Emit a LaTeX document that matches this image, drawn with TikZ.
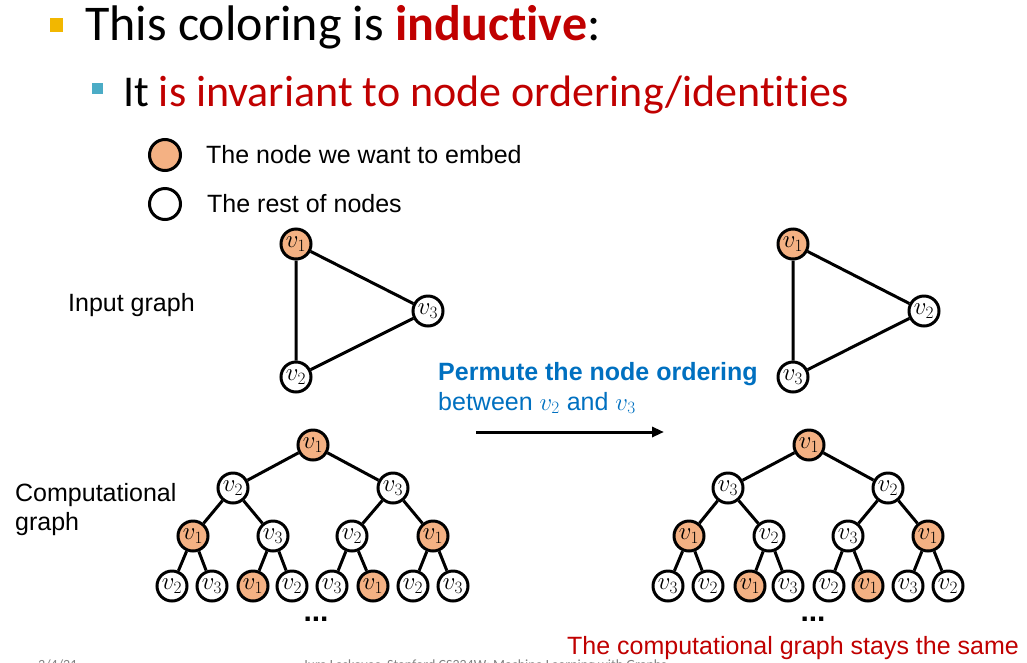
\documentclass[tikz,border=0pt]{standalone}
\usepackage{amsmath}
\usepackage{fontspec}
\setmainfont{Carlito}[Ligatures=NoCommon]
\newfontfamily\arialfont{Liberation Sans}
\usetikzlibrary{arrows.meta}

\definecolor{embedorange}{HTML}{F4B183}
\definecolor{slidered}{HTML}{C00000}
\definecolor{slideblue}{HTML}{0070C0}
\definecolor{bulletorange}{HTML}{F2B700}
\definecolor{bulletblue}{HTML}{4BACC6}

\begin{document}
\begin{tikzpicture}[x=1pt, y=-1pt,
    vtx/.style={circle, draw, line width=3pt, minimum size=30pt, inner sep=0pt, fill=white, font=\fontsize{26}{26}\selectfont},
    target/.style={vtx, fill=embedorange},
    edge/.style={line width=3pt},
    sidetext/.style={font=\arialfont\fontsize{25}{25}\selectfont, inner sep=0pt}]

    \useasboundingbox (0,0) rectangle (1027,662);
    \clip (0,0) rectangle (1027,662);

    % bullets and headings
    \fill[bulletorange] (50,18) rectangle (63,32);
    \node[anchor=base west, inner sep=0pt, font=\fontsize{50}{50}\selectfont] (title) at (85,40)
        {This coloring is \textcolor{slidered}{\textbf{inductive}}:};
    \fill[bulletblue] (92,83) rectangle (103,94);
    \node[anchor=base west, inner sep=0pt, font=\fontsize{44}{44}\selectfont] (subtitle) at (123,106)
        {It \textcolor{slidered}{is invariant to node ordering/identities}};

    % legend
    \node[target, minimum size=31pt] (keytarget) at (165,155) {};
    \node[sidetext, anchor=west] (keytargettext) at (206,155) {The node we want to embed};
    \node[vtx, minimum size=31pt] (keyrest) at (165,204) {};
    \node[sidetext, anchor=west] (keyresttext) at (207,204) {The rest of nodes};

    % input graphs
    \node[sidetext, anchor=west] (inputlabel) at (68,305) {Input graph};
    \node[target] (a1) at (296,244) {$v_1$};
    \node[vtx] (a3) at (428,311) {$v_3$};
    \node[vtx] (a2) at (296,377) {$v_2$};
    \draw[edge] (a1) -- (a3) -- (a2) -- (a1);

    \node[target] (b1) at (793,244) {$v_1$};
    \node[vtx] (b2) at (924,311) {$v_2$};
    \node[vtx] (b3) at (793,377) {$v_3$};
    \draw[edge] (b1) -- (b2) -- (b3) -- (b1);

    % permutation
    \node[sidetext, anchor=base west, text=slideblue, font=\arialfont\bfseries\fontsize{25}{25}\selectfont] (permute) at (438,380)
        {Permute the node ordering};
    \node[sidetext, anchor=base west, text=slideblue] (between) at (438,410)
        {between $v_2$ and $v_3$};
    \coordinate (permstart) at (476,432);
    \coordinate (permend) at (664,432);
    \draw[line width=3pt, -{Triangle[length=12pt, width=10pt]}] (permstart) -- (permend);

    % computational graph, left
    \node[sidetext, anchor=base west] (complabel) at (15,501) {Computational};
    \node[sidetext, anchor=base west] (complabel2) at (15,530) {graph};

    \node[target] (l1) at (313,445) {$v_1$};
    \node[vtx] (l2) at (233,488) {$v_2$};
    \node[vtx] (l3) at (393,488) {$v_3$};
    \node[target] (l4) at (193,536) {$v_1$};
    \node[vtx] (l5) at (273,536) {$v_3$};
    \node[vtx] (l6) at (352,536) {$v_2$};
    \node[target] (l7) at (433,536) {$v_1$};
    \node[vtx] (l8) at (172,586) {$v_2$};
    \node[vtx] (l9) at (212,586) {$v_3$};
    \node[target] (l10) at (253,586) {$v_1$};
    \node[vtx] (l11) at (292,586) {$v_2$};
    \node[vtx] (l12) at (332,586) {$v_3$};
    \node[target] (l13) at (373,586) {$v_1$};
    \node[vtx] (l14) at (413,586) {$v_2$};
    \node[vtx] (l15) at (453,586) {$v_3$};
    \foreach \p/\c in {l1/l2, l1/l3, l2/l4, l2/l5, l3/l6, l3/l7, l4/l8, l4/l9, l5/l10, l5/l11, l6/l12, l6/l13, l7/l14, l7/l15}
        \draw[edge] (\p) -- (\c);
    \node[font=\arialfont\bfseries\fontsize{30}{30}\selectfont, inner sep=0pt] (ldots) at (316,619) {...};

    % computational graph, right
    \node[target] (r1) at (809,445) {$v_1$};
    \node[vtx] (r2) at (728,488) {$v_3$};
    \node[vtx] (r3) at (888,488) {$v_2$};
    \node[target] (r4) at (689,536) {$v_1$};
    \node[vtx] (r5) at (769,536) {$v_2$};
    \node[vtx] (r6) at (848,536) {$v_3$};
    \node[target] (r7) at (928,536) {$v_1$};
    \node[vtx] (r8) at (668,586) {$v_3$};
    \node[vtx] (r9) at (708,586) {$v_2$};
    \node[target] (r10) at (750,586) {$v_1$};
    \node[vtx] (r11) at (788,586) {$v_3$};
    \node[vtx] (r12) at (829,586) {$v_2$};
    \node[target] (r13) at (868,586) {$v_1$};
    \node[vtx] (r14) at (908,586) {$v_3$};
    \node[vtx] (r15) at (948,586) {$v_2$};
    \foreach \p/\c in {r1/r2, r1/r3, r2/r4, r2/r5, r3/r6, r3/r7, r4/r8, r4/r9, r5/r10, r5/r11, r6/r12, r6/r13, r7/r14, r7/r15}
        \draw[edge] (\p) -- (\c);
    \node[font=\arialfont\bfseries\fontsize{30}{30}\selectfont, inner sep=0pt] (rdots) at (813,619) {...};

    \node[sidetext, anchor=base west, text=slidered] (same) at (567,654) {The computational graph stays the same};

    % footer, cut by the slide edge
    \node[anchor=base west, inner sep=0pt, text=gray, font=\fontsize{14}{14}\selectfont] (date) at (38,669) {3/4/21};
    \node[anchor=base west, inner sep=0pt, text=gray, font=\fontsize{14}{14}\selectfont] (credit) at (303,669)
        {Jure Leskovec, Stanford CS224W: Machine Learning with Graphs};
\end{tikzpicture}
\end{document}
